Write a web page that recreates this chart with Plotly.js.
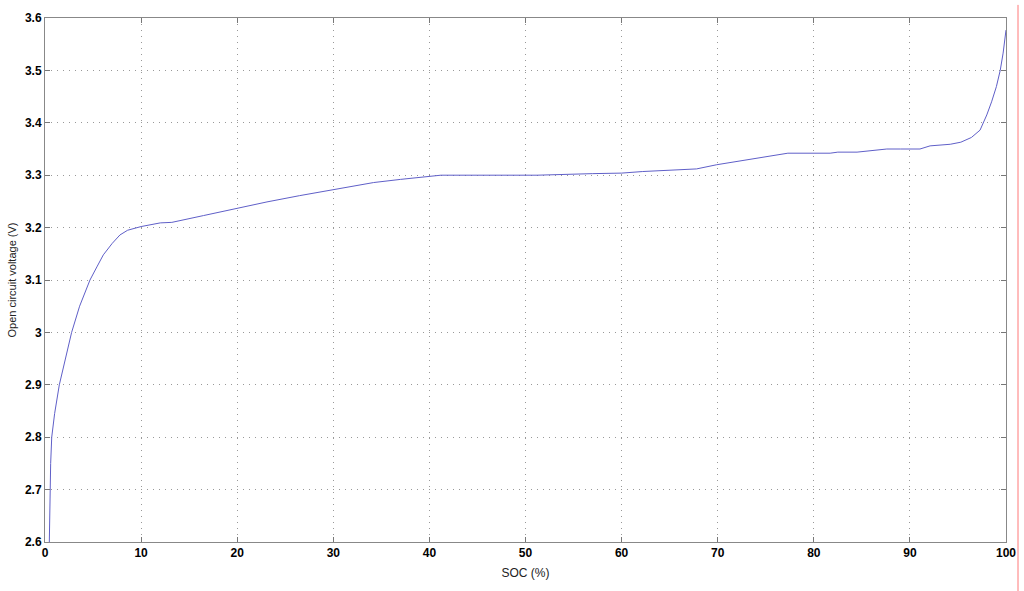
<!DOCTYPE html>
<html>
<head>
<meta charset="utf-8">
<script src="https://cdn.plot.ly/plotly-3.0.1.min.js"></script>
<style>html,body{margin:0;padding:0;background:#fff;}#chart{width:1024px;height:591px;}</style>
</head>
<body>
<div id="chart"></div>
<script>
const soc = [0.45, 0.5, 0.59, 0.7, 1.0, 1.49, 2.0, 2.77, 3.6, 4.68, 5.4, 6.07, 7.0, 7.8, 8.6, 10.0, 12.0, 13.2, 16.5, 19.9, 23.1, 26.5, 30.0, 34.2, 37.0, 40.1, 41.2, 45.0, 51.2, 57.0, 60.0, 62.2, 65.0, 67.8, 69.9, 72.0, 74.4, 77.3, 81.7, 82.5, 84.5, 85.8, 87.6, 89.0, 91.05, 92.1, 94.2, 95.3, 96.4, 97.3, 98.0, 98.5, 99.0, 99.4, 99.7, 100.0];
const ocv = [2.6, 2.68, 2.75, 2.80, 2.845, 2.90, 2.94, 3.00, 3.05, 3.10, 3.125, 3.148, 3.17, 3.186, 3.195, 3.202, 3.209, 3.21, 3.223, 3.237, 3.249, 3.261, 3.273, 3.286, 3.292, 3.298, 3.30, 3.30, 3.30, 3.303, 3.304, 3.307, 3.31, 3.312, 3.32, 3.326, 3.333, 3.342, 3.342, 3.344, 3.344, 3.347, 3.35, 3.35, 3.35, 3.356, 3.359, 3.363, 3.372, 3.386, 3.415, 3.44, 3.469, 3.50, 3.533, 3.577];
const xTicks = [0, 10, 20, 30, 40, 50, 60, 70, 80, 90, 100];
const xTickText = ["0", "10", "20", "30", "40", "50", "60", "70", "80", "90", "100"];
const yTicks = [2.6, 2.7, 2.8, 2.9, 3.0, 3.1, 3.2, 3.3, 3.4, 3.5, 3.6];
const yTickText = ["2.6", "2.7", "2.8", "2.9", "3", "3.1", "3.2", "3.3", "3.4", "3.5", "3.6"];
const xTitle = "SOC (%)";
const yTitle = "Open circuit voltage (V)";

const tickFont = {family: "Liberation Sans, Arial, sans-serif", size: 12, color: "#000", weight: "bold"};
const axisCommon = {
  showline: true, linecolor: "#888", linewidth: 1, mirror: "ticks",
  ticks: "inside", ticklen: 5, tickcolor: "#777", tickwidth: 1,
  showgrid: true, gridcolor: "#999", griddash: "1px,5px", gridwidth: 1,
  zeroline: false, tickfont: tickFont, tickmode: "array"
};

Plotly.newPlot("chart", [{
  x: soc, y: ocv, type: "scatter", mode: "lines",
  line: {color: "rgb(95,95,200)", width: 1}, hoverinfo: "skip"
}], {
  width: 1024, height: 591,
  margin: {l: 45, r: 18, t: 18, b: 49},
  paper_bgcolor: "#fff", plot_bgcolor: "#fff",
  showlegend: false,
  xaxis: Object.assign({}, axisCommon, {
    range: [0, 100], tickvals: xTicks, ticktext: xTickText,
    title: {text: xTitle, font: {family: "Liberation Sans, Arial, sans-serif", size: 12, color: "#222"}, standoff: 9}
  }),
  yaxis: Object.assign({}, axisCommon, {
    range: [2.6, 3.6], tickvals: yTicks, ticktext: yTickText,
    title: {text: yTitle, font: {family: "Liberation Sans, Arial, sans-serif", size: 11, color: "#222"}, standoff: 6}
  }),
  shapes: [{
    type: "line", xref: "paper", yref: "paper",
    x0: 1.0125, x1: 1.0125, y0: -0.11, y1: 1.025,
    line: {color: "rgb(255,120,120)", width: 1}
  }]
}, {displayModeBar: false, staticPlot: true});
</script>
</body>
</html>
